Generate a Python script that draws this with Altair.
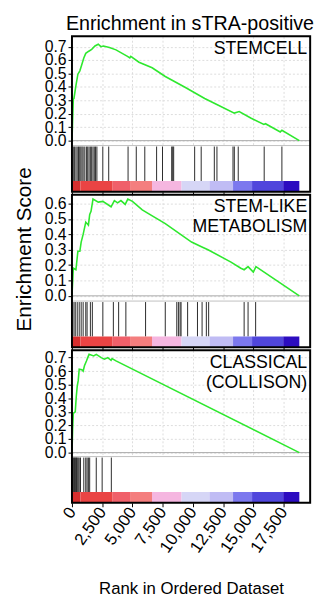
import altair as alt
import pandas as pd

FONT = "Liberation Sans"

chart_title = "Enrichment in sTRA-positive"
x_title = "Rank in Ordered Dataset"
y_title = "Enrichment Score"
panel_names = ["STEMCELL", "STEM-LIKE\nMETABOLISM", "CLASSICAL\n(COLLISON)"]

x_ticks = [0, 2500, 5000, 7500, 10000, 12500, 15000, 17500]

# running enrichment score curves (rank, ES)
p1_rank = [0, 110, 163, 326, 489, 652, 815, 978, 1141, 1359, 1630, 1902, 2174, 2391, 2609,
           3098, 3641, 4592, 4783, 4864, 5543, 6630, 7717, 9348, 10978, 12065, 13424, 13832,
           14783, 15870, 16005, 17228, 17364, 18804]
p1_es = [0, 0.31, 0.314, 0.41, 0.495, 0.52, 0.567, 0.615, 0.65, 0.664, 0.68, 0.705, 0.718, 0.70,
         0.705, 0.693, 0.676, 0.628, 0.616, 0.628, 0.584, 0.543, 0.478, 0.398, 0.314, 0.266,
         0.205, 0.217, 0.169, 0.121, 0.126, 0.065, 0.077, 0.0]

p2_rank = [0, 109, 326, 489, 652, 761, 924, 1141, 1359, 1467, 1576, 1739, 2174, 2554, 3234,
           3505, 3777, 4049, 4402, 4620, 5000, 5815, 6223, 7717, 9891, 10707, 11250, 13152,
           13967, 14239, 14565, 15000, 15217, 18804]
p2_es = [0, 0.18, 0.17, 0.29, 0.29, 0.35, 0.40, 0.48, 0.46, 0.53, 0.55, 0.63, 0.61, 0.615,
         0.58, 0.62, 0.605, 0.62, 0.595, 0.63, 0.615, 0.56, 0.54, 0.47, 0.35, 0.32, 0.30, 0.22,
         0.18, 0.17, 0.19, 0.155, 0.19, 0.0]

p3_rank = [0, 54, 109, 272, 353, 435, 516, 598, 815, 924, 1033, 1196, 1304, 1413, 1793, 2011,
           2418, 2690, 2962, 3234, 3315, 3641, 18804]
p3_es = [0, 0.17, 0.29, 0.30, 0.41, 0.49, 0.53, 0.615, 0.61, 0.60, 0.64, 0.675, 0.70, 0.724,
         0.712, 0.724, 0.70, 0.688, 0.70, 0.68, 0.693, 0.676, 0.0]

# gene-set hit positions
p1_hits = [108, 200, 326, 430, 543, 640, 733, 830, 923, 1060, 1194, 1300, 1411, 1520, 1628,
           1740, 1845, 1950, 2062, 2550, 3038, 4640, 5318, 6023, 7000, 7488, 8248, 8330, 8411,
           10146, 10688, 11773, 11990, 13318, 13427, 13752, 15898, 17363]
p2_hits = [163, 272, 435, 598, 761, 924, 1141, 1250, 1522, 1685, 2554, 3424, 3859, 4457, 6087,
           7717, 8668, 8804, 8940, 9022, 9565, 10380, 10761, 11114, 11304, 14239, 14565, 15190]
p3_hits = [54, 108, 163, 217, 271, 325, 380, 435, 515, 597, 706, 977, 1140, 1248, 1357, 1465,
           2008, 2496, 3256]

# ranked list colour bar
cb_start = [0, 700, 3364, 4803, 6620, 9062, 11368, 13322, 14895, 17471]
cb_end = [700, 3364, 4803, 6620, 9062, 11368, 13322, 14895, 17471, 18804]
cb_color = ["#d62e2e", "#ea4444", "#f0606a", "#f47e7e", "#f5b6e0", "#d6d6f6", "#c0bcf4",
            "#7c78ee", "#5046dc", "#2c0cc0"]

curves = [(p1_rank, p1_es), (p2_rank, p2_es), (p3_rank, p3_es)]
hits_all = [p1_hits, p2_hits, p3_hits]
y_ticks_all = [[0, 0.1, 0.2, 0.3, 0.4, 0.5, 0.6, 0.7],
               [0, 0.1, 0.2, 0.3, 0.4, 0.5, 0.6],
               [0, 0.1, 0.2, 0.3, 0.4, 0.5, 0.6, 0.7]]
y_domains = [[-0.381, 0.777], [-0.335, 0.658], [-0.370, 0.754]]
heights = [158, 155, 155]
W = 242

cb_df = pd.DataFrame({"start": cb_start, "end": cb_end, "color": cb_color})


def panel(i):
    H = heights[i]
    last = i == 2
    xscale = alt.Scale(domain=[0, 19700], nice=False, zero=False)
    yscale = alt.Scale(domain=y_domains[i], nice=False, zero=False)
    common_x = dict(values=x_ticks, grid=True, gridColor="#dcdcdc", gridDash=[2, 2],
                    tickColor="black", domain=False)
    if last:
        xaxis = alt.Axis(labelExpr="format(datum.value, ',')", labelAngle=-55,
                         labelFontSize=17, labelFont=FONT, tickSize=4,
                         labelColor="black", labelOverlap=False, labelPadding=2,
                         title=x_title, titleFont=FONT, titleFontSize=17,
                         titleFontWeight="normal", titleColor="black", titlePadding=26,
                         **common_x)
    else:
        xaxis = alt.Axis(labels=False, title=None, tickSize=3, **common_x)
    yaxis = alt.Axis(values=y_ticks_all[i], format=".1f", grid=True, gridColor="#dcdcdc",
                     gridDash=[2, 2], tickColor="black", tickSize=4, domain=False,
                     labelFontSize=16, labelFont=FONT, labelColor="black",
                     labelOverlap=False, labelPadding=2,
                     title=y_title if i == 1 else None, titleFont=FONT, titleFontSize=21,
                     titleFontWeight="normal", titleColor="black", titlePadding=10,
                     titleY=55)

    curve = pd.DataFrame({"rank": curves[i][0], "es": curves[i][1]})
    hits = pd.DataFrame({"rank": hits_all[i]})
    zero = pd.DataFrame({"es": [0.0]})
    name = pd.DataFrame({"name": [panel_names[i]]})

    X = lambda f: alt.X(f, scale=xscale, axis=xaxis)
    Y = lambda f: alt.Y(f, scale=yscale, axis=yaxis)

    line = alt.Chart(curve).mark_line(color="#2ee82e", strokeWidth=1.6).encode(
        x=X("rank:Q"), y=Y("es:Q"))
    blank = alt.Chart(zero).mark_rect(color="white").encode(
        x=alt.value(0), x2=alt.value(W), y=alt.value(H - 47), y2=alt.value(H))
    zline = alt.Chart(zero).mark_rule(color="#a8a8a8", strokeWidth=1).encode(
        x=alt.value(0), x2=alt.value(W), y=Y("es:Q"))
    sep = alt.Chart(zero).mark_rule(color="#c0c0c0", strokeWidth=1).encode(
        x=alt.value(0), x2=alt.value(W), y=alt.value(H - 47))
    hit = alt.Chart(hits).mark_rule(color="#2a2a2a", strokeWidth=1).encode(
        x=X("rank:Q"), y=alt.value(H - 46), y2=alt.value(H - 11))
    cbar = alt.Chart(cb_df).mark_rect().encode(
        x=X("start:Q"), x2="end:Q", y=alt.value(H - 11), y2=alt.value(H),
        color=alt.Color("color:N", scale=None))
    label = alt.Chart(name).mark_text(align="right", baseline="top", fontSize=18, font=FONT,
                                      lineHeight=20, lineBreak="\n", color="black").encode(
        x=alt.value(W - 3), y=alt.value(4), text="name:N")
    frame = alt.Chart(zero).mark_rect(filled=False, stroke="black", strokeWidth=2).encode(
        x=alt.value(0), x2=alt.value(W), y=alt.value(0), y2=alt.value(H))
    return alt.layer(blank, zline, sep, hit, cbar, line, label, frame).properties(
        width=W, height=H)


chart = alt.vconcat(panel(0), panel(1), panel(2), spacing=3, bounds="flush").properties(
    title=alt.Title(chart_title, font=FONT, fontSize=20, fontWeight="normal",
                    color="black", anchor="middle", offset=1, dx=28),
    padding={"left": 5, "top": 2, "right": 5, "bottom": 0},
).configure_view(stroke=None)

chart.save("out.html", embed_options={"renderer": "svg", "actions": False})
